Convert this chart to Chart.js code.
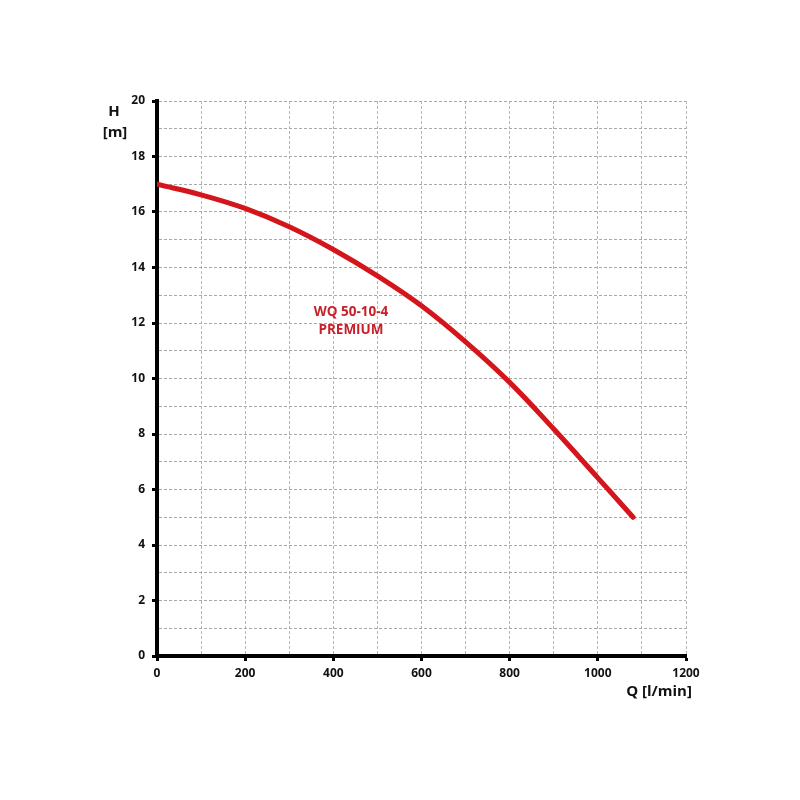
<!DOCTYPE html>
<html>
<head>
<meta charset="utf-8">
<script src="https://cdn.jsdelivr.net/npm/chart.js@4"></script>
<style>
  html, body { margin: 0; padding: 0; background: #fff; }
  #wrap { width: 800px; height: 800px; }
</style>
</head>
<body>
<div id="wrap"><canvas id="myChart" width="800" height="800"></canvas></div>
<script>
// Datos
var flowQ = [0, 100, 200, 300, 400, 500, 600, 700, 800, 900, 1000, 1080];
var headH = [17.0, 16.62, 16.13, 15.47, 14.65, 13.7, 12.62, 11.32, 9.86, 8.18, 6.42, 5.0];
var curveName = ['WQ 50-10-4', 'PREMIUM'];
var xTitle = 'Q [l/min]';
var yTitle = ['H', '[m]'];

var points = flowQ.map((q, i) => ({ x: q, y: headH[i] }));

// textos extra (titulos de ejes y nombre de la bomba)
var textos = {
  id: 'textos',
  afterDraw(chart) {
    var c = chart.ctx;
    var xs = chart.scales.x, ys = chart.scales.y;
    c.save();
    c.fillStyle = '#111';
    c.font = 'bold 15px "Open Sans", "Liberation Sans", sans-serif';
    c.textAlign = 'center';
    c.textBaseline = 'middle';
    c.fillText(yTitle[0], 114, 112);
    c.fillText(yTitle[1], 115, 133);
    c.fillText(xTitle, 659, 692);
    c.fillStyle = '#c8202a';
    c.font = 'bold 13.5px "Open Sans", "Liberation Sans", sans-serif';
    var px = xs.getPixelForValue(440);
    c.fillText(curveName[0], px, ys.getPixelForValue(12.4));
    c.fillText(curveName[1], px, ys.getPixelForValue(11.75));
    c.restore();
  }
};

var ctx = document.getElementById('myChart').getContext('2d');
var myChart = new Chart(ctx, {
  type: 'line',
  data: {
    datasets: [{
      data: points,
      borderColor: '#d4161c',
      borderWidth: 5,
      borderCapStyle: 'round',
      borderJoinStyle: 'round',
      pointRadius: 0,
      tension: 0.4,
      fill: false
    }]
  },
  options: {
    responsive: false,
    animation: false,
    layout: { padding: { left: 0, top: 101, right: 114, bottom: 0 } },
    plugins: { legend: { display: false }, tooltip: { enabled: false } },
    scales: {
      x: {
        type: 'linear',
        min: 0, max: 1200,
        afterFit(scale) { scale.height = 144; },
        ticks: {
          stepSize: 100, autoSkip: false, maxRotation: 0, padding: 5,
          color: '#111',
          font: { family: '"Open Sans", "Liberation Sans", sans-serif', size: 12, weight: 'bold' },
          callback: v => (v % 200 === 0 ? v : '')
        },
        grid: {
          color: '#b5b5b5', lineWidth: 1,
          tickLength: 5, tickWidth: 3,
          tickColor: c => (c.tick && c.tick.value % 200 === 0 ? '#000' : 'rgba(0,0,0,0)')
        },
        border: { display: true, color: '#000', width: 4, dash: [3, 2] }
      },
      y: {
        type: 'linear',
        min: 0, max: 20,
        afterFit(scale) { scale.width = 157; },
        ticks: {
          stepSize: 1, autoSkip: false, padding: 7,
          color: '#111',
          font: { family: '"Open Sans", "Liberation Sans", sans-serif', size: 12, weight: 'bold' },
          callback: v => (v % 2 === 0 ? v : '')
        },
        grid: {
          color: '#a8a8a8', lineWidth: 1,
          tickLength: 5, tickWidth: 3,
          tickColor: c => (c.tick && c.tick.value % 2 === 0 ? '#000' : 'rgba(0,0,0,0)')
        },
        border: { display: true, color: '#000', width: 4, dash: [3, 2] }
      }
    }
  },
  plugins: [textos]
});
</script>
</body>
</html>
